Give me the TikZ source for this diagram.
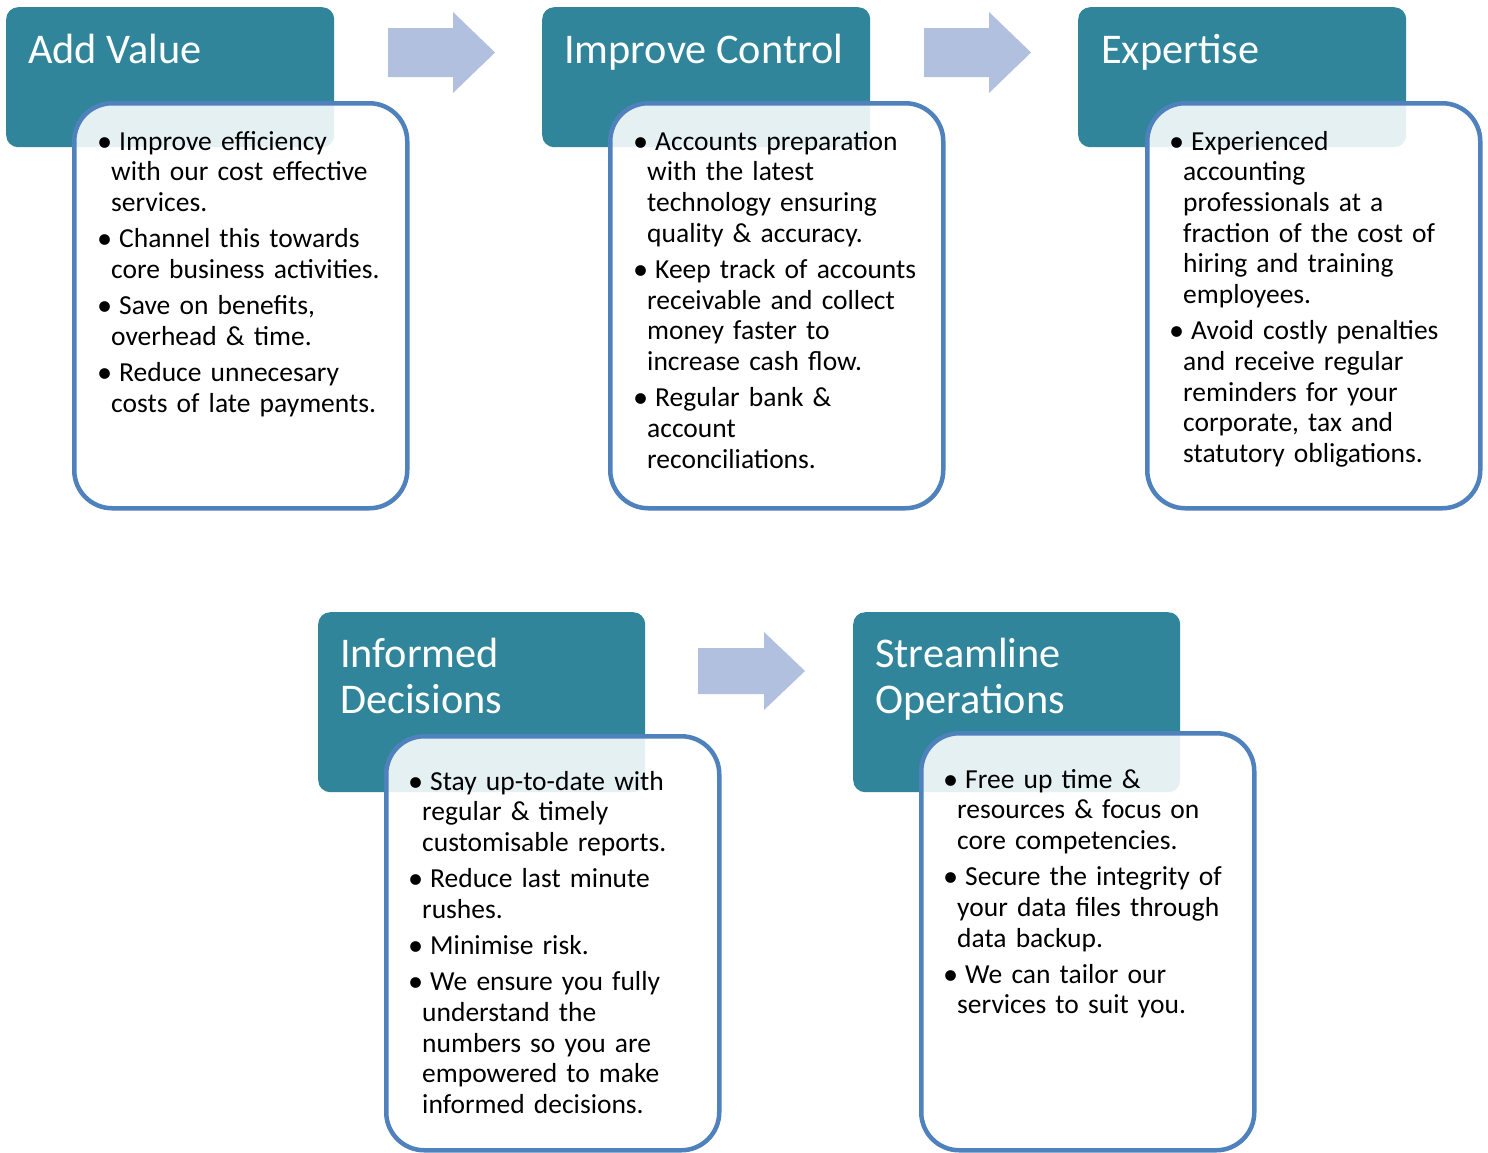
\documentclass[tikz,border=0pt]{standalone}
\usepackage{fontspec}
\usepackage{graphicx}
\setmainfont{Carlito}
\definecolor{teal}{RGB}{49,133,155}
\definecolor{bord}{RGB}{79,129,189}
\definecolor{arrowc}{RGB}{176,192,222}
\newcommand{\bdot}{\hspace{-3pt}\raisebox{-1pt}{\scalebox{1.1}{\textbullet}}}
\newcommand{\bpt}[1]{\noindent\hangindent=11pt\hangafter=1\makebox[19pt][l]{\bdot}#1\par\vspace{5.5pt}}
\tikzset{
  header/.style={fill=teal, draw=none, rounded corners=12pt, anchor=north west, inner sep=0, minimum width=328pt, minimum height=140pt},
  body/.style={draw=bord, line width=4.5pt, fill=white, fill opacity=0.88, rounded corners=38pt, anchor=north west, inner sep=0, minimum width=333pt},
  htext/.style={anchor=base west, inner sep=0, text=white, font=\fontsize{42.3}{46}\selectfont, align=left},
  btext/.style={anchor=base west, inner sep=0, text width=330pt, align=left, font=\fontsize{27.5}{30.7}\selectfont}
  ,blockarrow/.style={fill=arrowc, draw=none}
}
\begin{document}
\begin{tikzpicture}[x=1pt,y=-1pt]
\useasboundingbox (0,0) rectangle (1488,1152);
\fill[white] (0,0) rectangle (1488,1152);
% headers
\node[header] (h1) at (6,7) {};
\node[header] (h2) at (542,7) {};
\node[header] (h3) at (1078,7) {};
\node[header, minimum width=327pt, minimum height=180pt] (h4) at (318,612) {};
\node[header, minimum width=327pt, minimum height=180pt] (h5) at (853,612) {};
\node[htext] (t1) at (28,63) {Add Value};
\node[htext] (t2) at (564,63) {Improve Control};
\node[htext] (t3) at (1101,63) {Expertise};
\node[htext] (t4) at (340,713) {Informed\\Decisions};
\node[htext] (t5) at (875,713) {Streamline\\Operations};
% arrows
\fill[blockarrow] (388,28) -- (453,28) -- (453,12) -- (495,52.5) -- (453,93) -- (453,77) -- (388,77) -- cycle;
\fill[blockarrow] (924,28) -- (989,28) -- (989,12) -- (1031,52.5) -- (989,93) -- (989,77) -- (924,77) -- cycle;
\fill[blockarrow] (698,648) -- (764,648) -- (764,632) -- (805,671) -- (764,710) -- (764,694) -- (698,694) -- cycle;
% bodies
\node[body, minimum height=405pt] (b1) at (72,101) {};
\node[body, minimum height=405pt] (b2) at (608,101) {};
\node[body, minimum height=405pt] (b3) at (1145,101) {};
\node[body, minimum height=414pt] (b4) at (384,734) {};
\node[body, minimum height=417pt] (b5) at (919,731) {};
% body texts
\node[btext] (x1) at (100,150) {%
\bpt{Improve efficiency\newline with our cost effective\newline services.}%
\bpt{Channel this towards\newline core business activities.}%
\bpt{Save on benefits,\newline overhead \& time.}%
\bpt{Reduce unnecesary\newline costs of late payments.}};
\node[btext] (x2) at (636,150) {%
\bpt{Accounts preparation\newline with the latest\newline technology ensuring\newline quality \& accuracy.}%
\bpt{Keep track of accounts\newline receivable and collect\newline money faster to\newline increase cash flow.}%
\bpt{Regular bank \&\newline account\newline reconciliations.}};
\node[btext] (x3) at (1172,150) {%
\bpt{Experienced\newline accounting\newline professionals at a\newline fraction of the cost of\newline hiring and training\newline employees.}%
\bpt{Avoid costly penalties\newline and receive regular\newline reminders for your\newline corporate, tax and\newline statutory obligations.}};
\node[btext] (x4) at (411,790) {%
\bpt{Stay up-to-date with\newline regular \& timely\newline customisable reports.}%
\bpt{Reduce last minute\newline rushes.}%
\bpt{Minimise risk.}%
\bpt{We ensure you fully\newline understand the\newline numbers so you are\newline empowered to make\newline informed decisions.}};
\node[btext] (x5) at (946,788) {%
\bpt{Free up time \&\newline resources \& focus on\newline core competencies.}%
\bpt{Secure the integrity of\newline your data files through\newline data backup.}%
\bpt{We can tailor our\newline services to suit you.}};
\end{tikzpicture}
\end{document}
